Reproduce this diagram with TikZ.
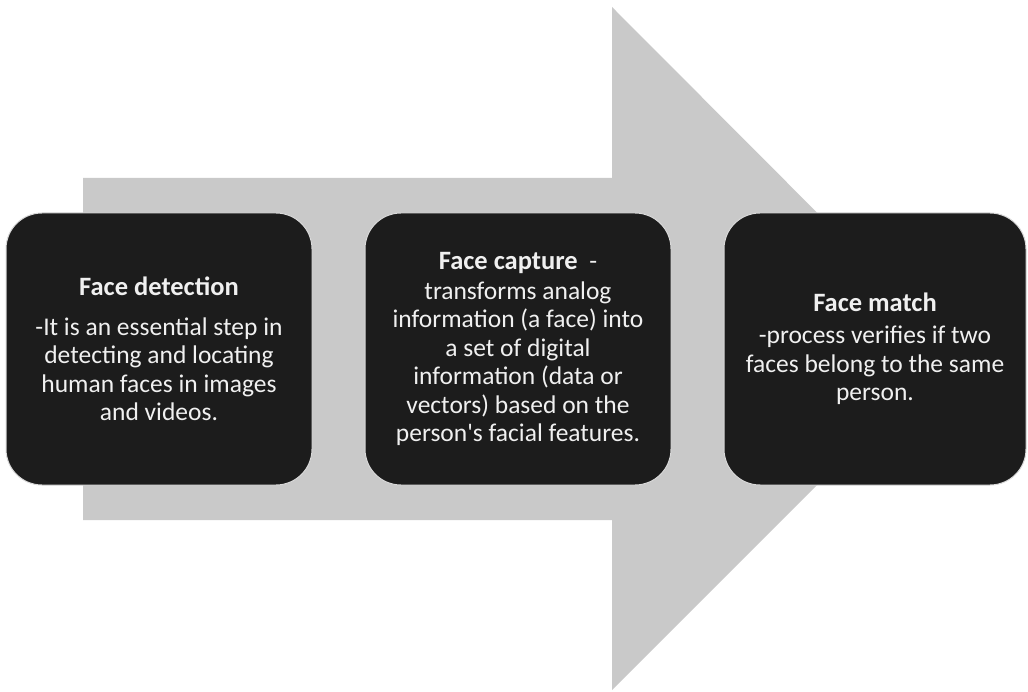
\documentclass[tikz,border=0pt]{standalone}
\usepackage{fontspec}
\setmainfont{Carlito}[Ligatures=TeXOff]
\begin{document}
\begin{tikzpicture}[x=1pt,y=-1pt,
  stepbox/.style={draw=white!85!black, line width=1pt, fill=black!89,
    rounded corners=36pt, minimum width=306pt, minimum height=272pt,
    text=white!94!black, align=center, inner sep=0pt,
    font=\fontsize{25.5}{28.5}\selectfont},
  flow/.style={fill=black!21, draw=none}]
\useasboundingbox (0,0) rectangle (1028,692);
\fill[white] (0,0) rectangle (1028,692);
% broad process arrow behind the steps
\coordinate (tail) at (83,349);
\coordinate (tip) at (953,349);
\fill[flow] (83,178) -- (612,178) -- (612,7) -- (tip) -- (612,690)
  -- (612,520) -- (83,520) -- cycle;
% the three steps
\newcommand\ttl[1]{{\fontsize{26.5}{28.5}\selectfont\bfseries #1}}
\node[stepbox] (detect) at (159,349)
  {\ttl{Face detection}\\[11pt]
   -It is an essential step in\\
   detecting and locating\\
   human faces in images\\
   and videos.};
\node[stepbox] (capture) at (518,349)
  {\ttl{Face capture}\ \ -\\[1.5pt]
   transforms analog\\
   information (a face) into\\
   a set of digital\\
   information (data or\\
   vectors) based on the\\
   person's facial features.};
\node[stepbox, minimum width=302pt] (match) at (875,349)
  {\ttl{Face match}\\[4pt]
   -process verifies if two\\
   faces belong to the same\\
   person.};
\end{tikzpicture}
\end{document}
